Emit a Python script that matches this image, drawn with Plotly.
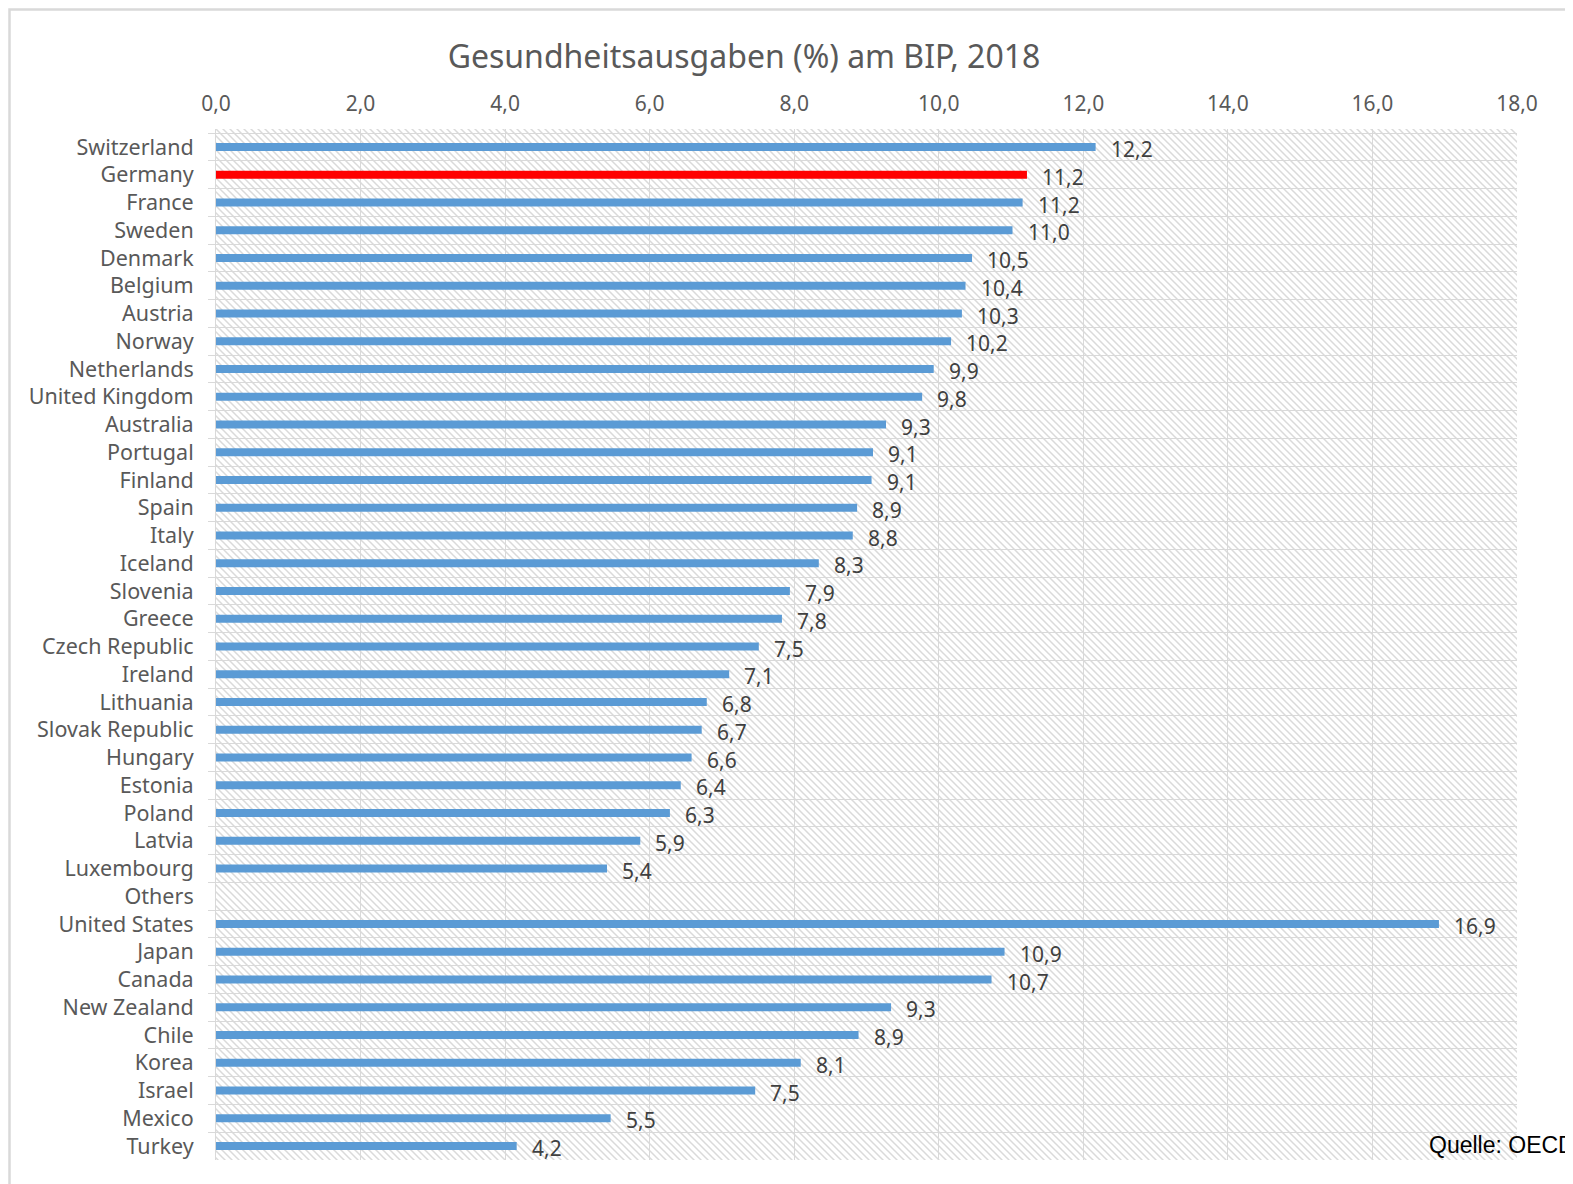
import base64
import plotly.graph_objects as go

countries = ["Switzerland", "Germany", "France", "Sweden", "Denmark", "Belgium", "Austria",
             "Norway", "Netherlands", "United Kingdom", "Australia", "Portugal", "Finland",
             "Spain", "Italy", "Iceland", "Slovenia", "Greece", "Czech Republic", "Ireland",
             "Lithuania", "Slovak Republic", "Hungary", "Estonia", "Poland", "Latvia",
             "Luxembourg", "Others", "United States", "Japan", "Canada", "New Zealand",
             "Chile", "Korea", "Israel", "Mexico", "Turkey"]
values = [12.17, 11.22, 11.16, 11.02, 10.46, 10.37, 10.32, 10.17, 9.93, 9.77, 9.27, 9.09,
          9.07, 8.87, 8.81, 8.34, 7.94, 7.83, 7.51, 7.10, 6.79, 6.72, 6.58, 6.43, 6.28,
          5.87, 5.41, None, 16.92, 10.91, 10.73, 9.34, 8.89, 8.09, 7.46, 5.46, 4.16]
highlight = "Germany"
x_ticks = [0, 2, 4, 6, 8, 10, 12, 14, 16, 18]

# page has an 8px body margin: work in screen pixels, then subtract it
OFF = 8
W, H = 1573 - OFF, 1184 - OFF
L, R, T, B = 216 - OFF, 1517 - OFF, 129 - OFF, 1160 - OFF
pw, ph = R - L, B - T

colors = ["#FF0000" if c == highlight else "#5B9BD5" for c in countries]

fig = go.Figure()
fig.add_trace(go.Bar(
    x=values, y=countries, orientation="h", width=0.28,
    marker=dict(color=colors, line=dict(width=0)),
    hoverinfo="x+y",
))

for c, v in zip(countries, values):
    if v is None:
        continue
    fig.add_annotation(x=v, y=c, xref="x", yref="y", text=f"{v:.1f}".replace(".", ","),
                       showarrow=False, xanchor="left", yanchor="middle", xshift=13, yshift=-2,
                       font=dict(family="Noto Sans", size=21, color="#404040"))

# hatched background of the plot area
svg = f'''<svg xmlns="http://www.w3.org/2000/svg" width="{pw}" height="{ph}">
<defs><pattern id="p" width="7" height="7" patternUnits="userSpaceOnUse">
<path d="M-1,-1 L8,8 M-8,-1 L1,8 M6,-1 L15,8" stroke="#dadada" stroke-width="1.5"/>
</pattern></defs>
<rect width="{pw}" height="{ph}" fill="#ffffff"/>
<rect width="{pw}" height="{ph}" fill="url(#p)"/>
</svg>'''
src = "data:image/svg+xml;base64," + base64.b64encode(svg.encode()).decode()
fig.add_layout_image(source=src, xref="paper", yref="paper", x=0, y=1, sizex=1, sizey=1,
                     xanchor="left", yanchor="top", sizing="stretch", layer="below")

# outer chart border (partly cut off), placed as close to the page edge as possible
fig.add_shape(type="rect", xref="paper", yref="paper",
              x0=(1.5 - L) / pw, x1=2.0, y0=-0.5, y1=(B - 1.5) / ph,
              line=dict(color="#d9d9d9", width=2.5), fillcolor="rgba(0,0,0,0)")

fig.add_annotation(text="Quelle: OECD", xref="paper", yref="paper",
                   x=(1427 - OFF - L) / pw, y=(B - (1145 - OFF)) / ph,
                   xanchor="left", yanchor="middle",
                   showarrow=False, font=dict(family="Liberation Sans", size=23, color="#000000"))

fig.update_layout(
    width=W, height=H,
    margin=dict(l=L, r=W - R, t=T, b=H - B),
    paper_bgcolor="#ffffff", plot_bgcolor="rgba(0,0,0,0)",
    separators=", ",
    showlegend=False,
    title=dict(text="Gesundheitsausgaben (%) am BIP, 2018", x=(744 - OFF) / W,
               y=1 - (57 - OFF) / H,
               xref="container", yref="container", xanchor="center", yanchor="middle",
               font=dict(family="Noto Sans", size=32, color="#595959")),
    xaxis=dict(side="top", range=[0, 18], tickvals=x_ticks, tickformat=".1f",
               showgrid=True, gridcolor="#d9d9d9", gridwidth=1, zeroline=False,
               showline=False, ticks="", ticklabelstandoff=13,
               tickfont=dict(family="Noto Sans", size=21, color="#595959")),
    yaxis=dict(type="category", autorange="reversed", tickson="boundaries",
               showgrid=True, gridcolor="#d9d9d9", gridwidth=1,
               showline=True, linecolor="#d9d9d9", linewidth=1,
               ticks="outside", ticklen=7, tickcolor="#d9d9d9", ticklabelstandoff=17,
               tickfont=dict(family="Noto Sans", size=21.5, color="#595959")),
)

fig.write_html("out.html")
